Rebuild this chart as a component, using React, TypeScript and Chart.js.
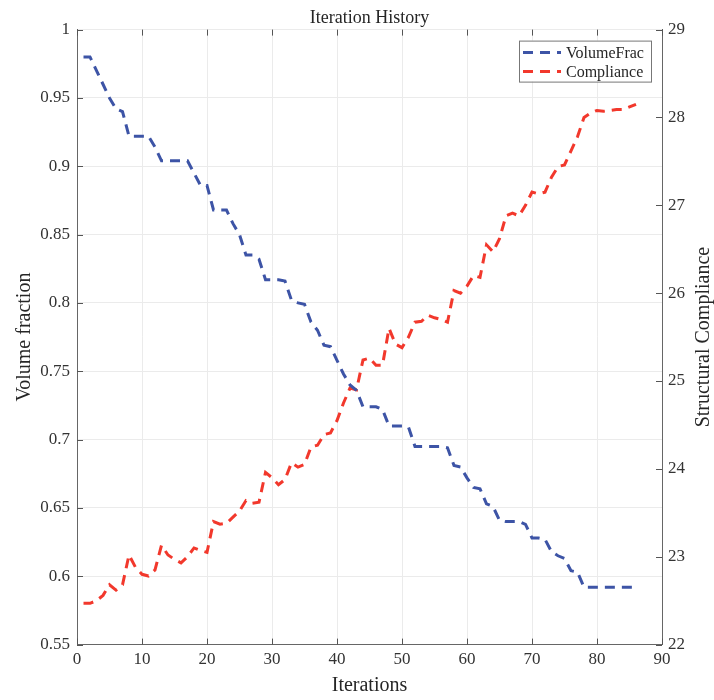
import { useEffect, useRef } from 'react';
import { Chart, registerables } from 'chart.js';

Chart.register(...registerables);

const chartTitle = 'Iteration History';
const xAxisTitle = 'Iterations';
const leftAxisTitle = 'Volume fraction';
const rightAxisTitle = 'Structural Compliance';
const seriesLabels = ['VolumeFrac', 'Compliance'];

const iterations = [
  1, 2, 3, 4, 5, 6, 7, 8, 9, 10, 11, 12, 13, 14, 15, 16, 17, 18, 19, 20,
  21, 22, 23, 24, 25, 26, 27, 28, 29, 30, 31, 32, 33, 34, 35, 36, 37, 38, 39, 40,
  41, 42, 43, 44, 45, 46, 47, 48, 49, 50, 51, 52, 53, 54, 55, 56, 57, 58, 59, 60,
  61, 62, 63, 64, 65, 66, 67, 68, 69, 70, 71, 72, 73, 74, 75, 76, 77, 78, 79, 80,
  81, 82, 83, 84, 85, 86,
];

const volumeFrac = [
  0.98, 0.98, 0.97, 0.96, 0.95, 0.942, 0.94, 0.922, 0.922, 0.922,
  0.922, 0.914, 0.904, 0.904, 0.904, 0.904, 0.904, 0.895, 0.886, 0.886,
  0.868, 0.868, 0.868, 0.858, 0.85, 0.835, 0.835, 0.832, 0.817, 0.817,
  0.817, 0.816, 0.802, 0.8, 0.799, 0.786, 0.78, 0.769, 0.768, 0.758,
  0.748, 0.74, 0.736, 0.724, 0.724, 0.724, 0.722, 0.71, 0.71, 0.71,
  0.709, 0.695, 0.695, 0.695, 0.695, 0.695, 0.694, 0.681, 0.68, 0.672,
  0.665, 0.664, 0.653, 0.651, 0.641, 0.64, 0.64, 0.64, 0.638, 0.628,
  0.628, 0.627, 0.618, 0.615, 0.613, 0.604, 0.603, 0.592, 0.592, 0.592,
  0.592, 0.592, 0.592, 0.592, 0.592, 0.592,
];

const compliance = [
  22.47, 22.47, 22.5, 22.56, 22.68, 22.62, 22.68, 23.02, 22.88, 22.8,
  22.78, 22.85, 23.13, 23.02, 22.97, 22.93, 23.0, 23.1, 23.07, 23.05,
  23.4, 23.37, 23.38, 23.45, 23.52, 23.64, 23.61, 23.62, 23.96, 23.9,
  23.82, 23.88, 24.07, 24.02, 24.05, 24.25, 24.27, 24.39, 24.41, 24.55,
  24.75, 24.92, 24.9, 25.24, 25.26, 25.18, 25.18, 25.6, 25.42, 25.38,
  25.5, 25.67, 25.68, 25.75, 25.72, 25.7, 25.67, 26.03, 26.0, 26.08,
  26.2, 26.18, 26.55, 26.47, 26.62, 26.88, 26.91, 26.88, 27.0, 27.15,
  27.13, 27.15, 27.32, 27.44, 27.46, 27.62, 27.78, 28.0, 28.05, 28.08,
  28.07, 28.08, 28.09, 28.09, 28.12, 28.15,
];

const xRange = [0, 90, 10];
const leftRange = [0.55, 1, 0.05];
const rightRange = [22, 29, 1];

const BLUE = '#3d54a6';
const RED = '#f2382c';
const SERIF = '"Liberation Serif", "Times New Roman", serif';

const decorPlugin = {
  id: 'decor',
  afterDraw(chart: any) {
    const { ctx, chartArea: a, scales } = chart;
    const xs = scales.x;
    const yl = scales.y;
    const yr = scales.y1;
    ctx.save();
    // inward tick marks
    ctx.strokeStyle = '#555';
    ctx.lineWidth = 1;
    ctx.beginPath();
    xs.ticks.forEach((t: any) => {
      const px = Math.round(xs.getPixelForValue(t.value)) + 0.5;
      ctx.moveTo(px, a.bottom);
      ctx.lineTo(px, a.bottom - 6);
      ctx.moveTo(px, a.top);
      ctx.lineTo(px, a.top + 6);
    });
    yl.ticks.forEach((t: any) => {
      const py = Math.round(yl.getPixelForValue(t.value)) + 0.5;
      ctx.moveTo(a.left, py);
      ctx.lineTo(a.left + 6, py);
    });
    yr.ticks.forEach((t: any) => {
      const py = Math.round(yr.getPixelForValue(t.value)) + 0.5;
      ctx.moveTo(a.right, py);
      ctx.lineTo(a.right - 6, py);
    });
    ctx.stroke();

    // axis titles
    ctx.fillStyle = '#262626';
    ctx.font = `20px ${SERIF}`;
    ctx.textAlign = 'center';
    ctx.textBaseline = 'middle';
    const cy = (a.top + a.bottom) / 2;
    ctx.fillText(xAxisTitle, (a.left + a.right) / 2, a.bottom + 41);
    ctx.save();
    ctx.translate(a.left - 52, cy);
    ctx.rotate(-Math.PI / 2);
    ctx.fillText(leftAxisTitle, 0, 0);
    ctx.restore();
    ctx.save();
    ctx.translate(a.right + 42, cy);
    ctx.rotate(-Math.PI / 2);
    ctx.fillText(rightAxisTitle, 0, 0);
    ctx.restore();

    // legend
    const bw = 132;
    const bh = 41;
    const bx = a.right - 11 - bw;
    const by = a.top + 11;
    ctx.fillStyle = '#ffffff';
    ctx.fillRect(bx, by, bw, bh);
    ctx.strokeStyle = '#777';
    ctx.lineWidth = 1;
    ctx.strokeRect(bx + 0.5, by + 0.5, bw, bh);
    chart.data.datasets.forEach((ds: any, i: number) => {
      const ry = by + 12 + i * 19;
      ctx.strokeStyle = ds.borderColor;
      ctx.lineWidth = 3;
      ctx.setLineDash([10, 7]);
      ctx.beginPath();
      ctx.moveTo(bx + 4, ry);
      ctx.lineTo(bx + 42, ry);
      ctx.stroke();
      ctx.setLineDash([]);
      ctx.fillStyle = '#262626';
      ctx.font = `16px ${SERIF}`;
      ctx.textAlign = 'left';
      ctx.textBaseline = 'middle';
      ctx.fillText(ds.label, bx + 47, ry + 1);
    });
    ctx.restore();
  },
};

export default function App() {
  const canvasRef = useRef<HTMLCanvasElement | null>(null);

  useEffect(() => {
    document.body.style.margin = '0';
    const canvas = canvasRef.current;
    if (!canvas) return;
    const tickFont = { family: SERIF, size: 17 };
    const chart = new Chart(canvas, {
      type: 'line',
      data: {
        datasets: [
          {
            label: seriesLabels[0],
            data: iterations.map((x, i) => ({ x, y: volumeFrac[i] })),
            borderColor: BLUE,
            backgroundColor: BLUE,
            borderWidth: 3,
            borderDash: [10, 7],
            pointRadius: 0,
            tension: 0,
            yAxisID: 'y',
          },
          {
            label: seriesLabels[1],
            data: iterations.map((x, i) => ({ x, y: compliance[i] })),
            borderColor: RED,
            backgroundColor: RED,
            borderWidth: 3,
            borderDash: [10, 7],
            pointRadius: 0,
            tension: 0,
            yAxisID: 'y1',
          },
        ],
      },
      options: {
        responsive: false,
        animation: false,
        layout: { padding: 0 },
        plugins: {
          legend: { display: false },
          tooltip: { enabled: false },
          title: {
            display: true,
            text: chartTitle,
            fullSize: false,
            color: '#262626',
            font: { family: SERIF, size: 18, weight: 'normal', lineHeight: 1.2 },
            padding: { top: 7, bottom: 1 },
          },
        },
        scales: {
          x: {
            type: 'linear',
            min: xRange[0],
            max: xRange[1],
            ticks: { stepSize: xRange[2], font: tickFont, color: '#333', padding: 5, maxRotation: 0 },
            grid: { color: '#ebebeb', drawTicks: false },
            border: { color: '#666', width: 1 },
            afterFit: (s: any) => { s.height = 55.4; },
          },
          y: {
            type: 'linear',
            position: 'left',
            min: leftRange[0],
            max: leftRange[1],
            ticks: {
              stepSize: leftRange[2],
              font: tickFont,
              color: '#333',
              padding: 7,
              callback: (v: any) => String(Number(Number(v).toFixed(2))),
            },
            grid: { color: '#ebebeb', drawTicks: false },
            border: { color: '#666', width: 1 },
            afterFit: (s: any) => { s.width = 77; },
          },
          y1: {
            type: 'linear',
            position: 'right',
            min: rightRange[0],
            max: rightRange[1],
            ticks: { stepSize: rightRange[2], font: tickFont, color: '#333', padding: 6 },
            grid: { display: false, drawTicks: false },
            border: { color: '#666', width: 1 },
            afterFit: (s: any) => { s.width = 52; },
          },
        },
      },
      plugins: [decorPlugin],
    });
    return () => chart.destroy();
  }, []);

  return (
    <div style={{ width: 714, height: 700 }}>
      <canvas ref={canvasRef} width={714} height={700} style={{ display: 'block' }} />
    </div>
  );
}
